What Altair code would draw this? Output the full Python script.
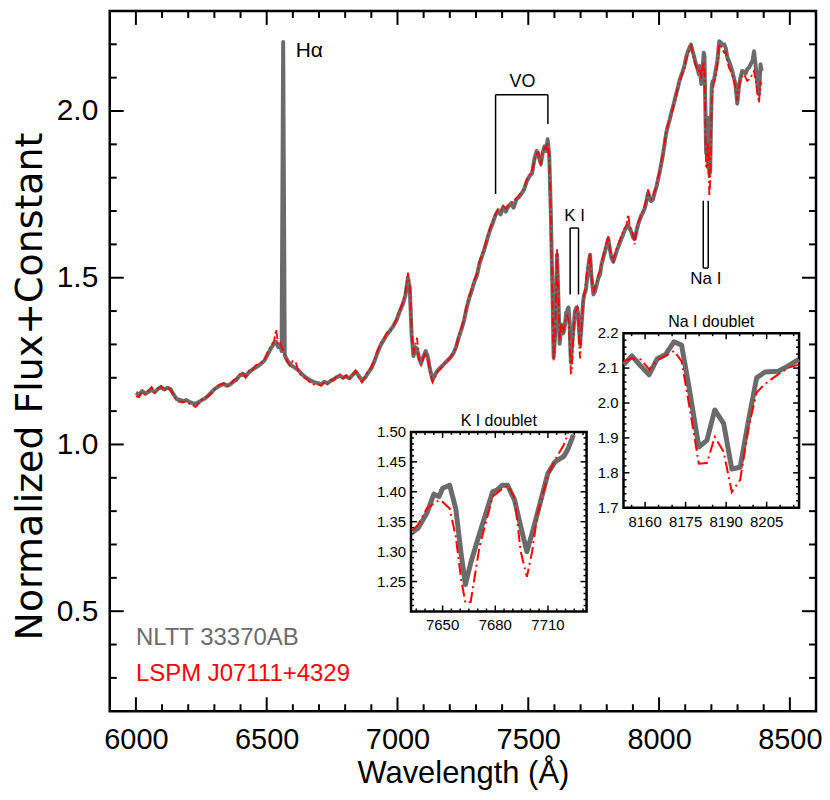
import altair as alt
import pandas as pd

# ---------------- data ----------------
WAVE = [6000, 6012, 6024, 6036, 6048, 6060, 6072, 6084, 6096, 6108, 6120, 6132, 6144, 6156, 6168, 6180,
        6192, 6204, 6216, 6228, 6240, 6252, 6264, 6276, 6288, 6300, 6312, 6324, 6336, 6348, 6360, 6372,
        6384, 6396, 6408, 6420, 6432, 6444, 6456, 6468, 6480, 6492, 6504, 6516, 6528, 6536, 6544, 6552,
        6557, 6563, 6569, 6576, 6588, 6600, 6612, 6624, 6636, 6648, 6660, 6672, 6684, 6696, 6708, 6720,
        6732, 6744, 6756, 6768, 6780, 6792, 6804, 6816, 6828, 6840, 6852, 6864, 6876, 6888, 6900, 6912,
        6924, 6936, 6948, 6960, 6972, 6984, 6996, 7008, 7020, 7030, 7040, 7047, 7054, 7061, 7068, 7075,
        7082, 7090, 7098, 7108, 7116, 7124, 7134, 7144, 7154, 7164, 7174, 7184, 7194, 7204, 7214, 7224,
        7234, 7244, 7254, 7264, 7274, 7284, 7294, 7304, 7314, 7324, 7334, 7344, 7354, 7364, 7374, 7384,
        7394, 7404, 7414, 7424, 7434, 7444, 7454, 7464, 7474, 7484, 7494, 7504, 7514, 7524, 7532, 7540,
        7548, 7555, 7562, 7568, 7574, 7580, 7586, 7592, 7597, 7603, 7610, 7615, 7620, 7626,
        7633, 7636, 7641, 7645, 7648, 7650, 7654, 7657.5, 7660.5, 7663, 7666, 7671, 7678.5, 7681, 7684,
        7687, 7691, 7694.5, 7698, 7701, 7704, 7706.5, 7710, 7714, 7719, 7721.5, 7724.5,
        7730, 7736, 7742, 7749, 7755, 7762, 7768, 7774, 7780, 7787, 7793, 7800, 7806, 7812, 7818, 7825,
        7832, 7840, 7848, 7856, 7863, 7870, 7876, 7882, 7888, 7895, 7901, 7907, 7914, 7920, 7927, 7933,
        7939, 7946, 7952, 7958, 7964, 7970, 7977, 7983, 7990, 7996, 8002, 8008, 8015, 8021, 8027, 8034,
        8040, 8047, 8053, 8059, 8065, 8072, 8078, 8084, 8090, 8097, 8103, 8110, 8116, 8122, 8128, 8135,
        8141, 8146,
        8152.2, 8155.1, 8158.4, 8161.5, 8164.5, 8167.6, 8170.7, 8173.5, 8176.2, 8179.9, 8182.9, 8185.8,
        8189.1, 8192.1, 8195.2, 8198.3, 8201.3, 8204.4, 8209.3, 8213, 8216.9,
        8223, 8230, 8236, 8242, 8249, 8255, 8261, 8267, 8274, 8280, 8286, 8292, 8299, 8305, 8311, 8318,
        8324, 8331, 8337, 8344, 8350, 8357, 8363, 8370, 8376, 8382, 8388, 8392]

GRAY = [1.155, 1.150, 1.160, 1.152, 1.158, 1.163, 1.157, 1.166, 1.172, 1.165, 1.170, 1.166, 1.150, 1.136, 1.134, 1.130,
        1.133, 1.128, 1.124, 1.122, 1.127, 1.133, 1.138, 1.146, 1.156, 1.166, 1.172, 1.178, 1.181, 1.176, 1.180, 1.188,
        1.194, 1.206, 1.212, 1.205, 1.216, 1.224, 1.230, 1.236, 1.243, 1.252, 1.270, 1.288, 1.302, 1.308, 1.292, 1.298,
        1.280, 2.207, 1.268, 1.256, 1.242, 1.234, 1.228, 1.220, 1.210, 1.202, 1.196, 1.190, 1.186, 1.184, 1.180, 1.188,
        1.184, 1.190, 1.196, 1.202, 1.206, 1.200, 1.204, 1.198, 1.208, 1.218, 1.206, 1.192, 1.200, 1.215, 1.228, 1.250,
        1.276, 1.298, 1.314, 1.330, 1.342, 1.355, 1.372, 1.398, 1.420, 1.446, 1.500, 1.468, 1.330, 1.265, 1.292, 1.285,
        1.260, 1.243, 1.262, 1.280, 1.262, 1.226, 1.194, 1.210, 1.222, 1.230, 1.238, 1.246, 1.254, 1.262, 1.274, 1.292,
        1.320, 1.344, 1.370, 1.408, 1.438, 1.462, 1.488, 1.508, 1.544, 1.566, 1.590, 1.618, 1.644, 1.664, 1.686, 1.700,
        1.690, 1.712, 1.698, 1.714, 1.722, 1.710, 1.734, 1.742, 1.752, 1.764, 1.788, 1.804, 1.812, 1.858, 1.880, 1.862,
        1.842, 1.874, 1.894, 1.880, 1.915, 1.870, 1.700, 1.480, 1.262, 1.330, 1.570, 1.440, 1.302, 1.360,
        1.333, 1.339, 1.364, 1.396, 1.392, 1.406, 1.411, 1.372, 1.297, 1.245, 1.281, 1.330, 1.400, 1.403, 1.411,
        1.411, 1.386, 1.342, 1.300, 1.331, 1.364, 1.392, 1.431, 1.450, 1.459, 1.472, 1.495,
        1.538, 1.568, 1.500, 1.450, 1.459, 1.480, 1.500, 1.509, 1.540, 1.560, 1.578, 1.600, 1.617, 1.585, 1.560, 1.548,
        1.565, 1.585, 1.600, 1.617, 1.630, 1.645, 1.650, 1.657, 1.648, 1.635, 1.620, 1.617, 1.640, 1.660, 1.675, 1.688,
        1.696, 1.710, 1.730, 1.755, 1.740, 1.730, 1.736, 1.755, 1.772, 1.795, 1.815, 1.840, 1.870, 1.900, 1.933, 1.955,
        1.972, 1.995, 2.012, 2.030, 2.050, 2.070, 2.091, 2.105, 2.118, 2.135, 2.160, 2.178, 2.190, 2.199, 2.180, 2.160,
        2.140, 2.130,
        2.110, 2.135, 2.106, 2.081, 2.127, 2.139, 2.175, 2.166, 2.048, 1.874, 1.893, 1.980,
        1.941, 1.811, 1.816, 1.951, 2.072, 2.089, 2.091, 2.106, 2.125,
        2.150, 2.209, 2.205, 2.198, 2.200, 2.189, 2.160, 2.150, 2.135, 2.120, 2.100, 2.080, 2.022, 2.070, 2.100, 2.120,
        2.118, 2.112, 2.125, 2.130, 2.140, 2.150, 2.179, 2.130, 2.080, 2.051, 2.140, 2.120]

RED = [1.145, 1.142, 1.158, 1.150, 1.162, 1.172, 1.155, 1.168, 1.175, 1.160, 1.172, 1.163, 1.148, 1.130, 1.128, 1.126,
       1.130, 1.122, 1.118, 1.112, 1.122, 1.134, 1.140, 1.146, 1.152, 1.162, 1.176, 1.180, 1.184, 1.174, 1.178, 1.192,
       1.198, 1.210, 1.216, 1.200, 1.222, 1.220, 1.236, 1.242, 1.246, 1.256, 1.278, 1.296, 1.310, 1.345, 1.300, 1.305,
       1.290, 1.300, 1.275, 1.250, 1.236, 1.250, 1.244, 1.214, 1.205, 1.198, 1.190, 1.182, 1.178, 1.180, 1.176, 1.186,
       1.180, 1.194, 1.192, 1.206, 1.210, 1.198, 1.208, 1.194, 1.210, 1.222, 1.200, 1.186, 1.204, 1.220, 1.232, 1.256,
       1.282, 1.304, 1.318, 1.336, 1.340, 1.358, 1.376, 1.402, 1.426, 1.452, 1.515, 1.480, 1.340, 1.270, 1.300, 1.320,
       1.255, 1.238, 1.256, 1.276, 1.258, 1.220, 1.186, 1.202, 1.220, 1.226, 1.236, 1.250, 1.252, 1.265, 1.276, 1.294,
       1.326, 1.350, 1.376, 1.414, 1.444, 1.468, 1.494, 1.514, 1.550, 1.572, 1.594, 1.624, 1.648, 1.668, 1.690, 1.706,
       1.700, 1.716, 1.708, 1.718, 1.726, 1.728, 1.738, 1.746, 1.758, 1.768, 1.794, 1.808, 1.816, 1.852, 1.870, 1.876,
       1.834, 1.880, 1.890, 1.886, 1.905, 1.860, 1.690, 1.460, 1.250, 1.345, 1.585, 1.452, 1.312, 1.362,
       1.336, 1.345, 1.372, 1.380, 1.386, 1.383, 1.372, 1.325, 1.255, 1.214, 1.216, 1.308, 1.392, 1.398, 1.405,
       1.411, 1.390, 1.300, 1.258, 1.300, 1.362, 1.390, 1.428, 1.453, 1.478, 1.498, 1.520,
       1.530, 1.575, 1.505, 1.455, 1.470, 1.490, 1.510, 1.520, 1.545, 1.570, 1.585, 1.605, 1.625, 1.590, 1.565, 1.550,
       1.575, 1.590, 1.610, 1.625, 1.640, 1.650, 1.660, 1.690, 1.655, 1.640, 1.630, 1.600, 1.650, 1.665, 1.680, 1.695,
       1.700, 1.720, 1.735, 1.765, 1.745, 1.735, 1.745, 1.760, 1.778, 1.800, 1.820, 1.845, 1.875, 1.905, 1.940, 1.960,
       1.975, 1.990, 2.010, 2.032, 2.045, 2.072, 2.085, 2.100, 2.115, 2.130, 2.150, 2.170, 2.182, 2.195, 2.175, 2.150,
       2.135, 2.120,
       2.120, 2.128, 2.125, 2.096, 2.123, 2.135, 2.149, 2.120, 1.999, 1.826, 1.828, 1.903,
       1.860, 1.745, 1.780, 1.930, 2.030, 2.055, 2.082, 2.101, 2.110,
       2.140, 2.200, 2.195, 2.185, 2.175, 2.178, 2.150, 2.130, 2.120, 2.105, 2.095, 2.070, 2.030, 2.075, 2.095, 2.105,
       2.110, 2.100, 2.090, 2.095, 2.100, 2.110, 2.120, 2.090, 2.050, 2.025, 2.085, 2.080]

# main axes ticks
X_MAJOR = [6000, 6500, 7000, 7500, 8000, 8500]
X_MINOR = [6100, 6200, 6300, 6400, 6600, 6700, 6800, 6900, 7100, 7200, 7300, 7400,
           7600, 7700, 7800, 7900, 8100, 8200, 8300, 8400]
Y_MAJOR = [0.5, 1.0, 1.5, 2.0]
Y_MINOR = [0.3, 0.4, 0.6, 0.7, 0.8, 0.9, 1.1, 1.2, 1.3, 1.4, 1.6, 1.7, 1.8, 1.9, 2.1, 2.2]

# K I inset ticks
KI_X_MAJOR = [7650, 7680, 7710]
KI_X_MINOR = [7635, 7640, 7645, 7655, 7660, 7665, 7670, 7675, 7685, 7690, 7695, 7700, 7705, 7715, 7720, 7725, 7730]
KI_Y_MAJOR = [1.25, 1.30, 1.35, 1.40, 1.45, 1.50]
KI_Y_MINOR = [1.21, 1.22, 1.23, 1.24, 1.26, 1.27, 1.28, 1.29, 1.31, 1.32, 1.33, 1.34, 1.36, 1.37, 1.38, 1.39,
              1.41, 1.42, 1.43, 1.44, 1.46, 1.47, 1.48, 1.49]
# Na I inset ticks
NA_X_MAJOR = [8160, 8175, 8190, 8205]
NA_X_MINOR = [8155, 8165, 8170, 8180, 8185, 8195, 8200, 8210, 8215]
NA_Y_MAJOR = [1.7, 1.8, 1.9, 2.0, 2.1, 2.2]
NA_Y_MINOR = [1.72, 1.74, 1.76, 1.78, 1.82, 1.84, 1.86, 1.88, 1.92, 1.94, 1.96, 1.98,
              2.02, 2.04, 2.06, 2.08, 2.12, 2.14, 2.16, 2.18]

# annotations (data units)
BR_X = [7375, 7375, 7575, 7660, 7660, 7692, 8169, 8169, 8188]
BR_X2 = [7375, 7575, 7575, 7660, 7692, 7692, 8169, 8188, 8188]
BR_Y = [2.049, 2.049, 2.049, 1.649, 1.649, 1.649, 1.731, 1.529, 1.731]
BR_Y2 = [1.751, 2.049, 1.961, 1.450, 1.649, 1.450, 1.529, 1.529, 1.529]
LAB_TEXT = ["VO", "K I", "Na I"]
LAB_X = [7478, 7677, 8179]
LAB_Y = [2.086, 1.686, 1.497]
LAB_SIZE = [18, 17, 17]
HA_TEXT, HA_X, HA_Y = "H\u03b1", 6611, 2.18
LEG_TEXT = ["NLTT 33370AB", "LSPM J07111+4329"]
LEG_X = [6000, 6000]
LEG_Y = [0.42, 0.313]

# ---------------- styling ----------------
F = "Liberation Sans"
GRAYC = "#6b6b6b"
W, H = 708, 702

spec = pd.DataFrame({"wave": WAVE, "gray": GRAY, "red": RED})

xs = alt.Scale(domain=[5900, 8600], nice=False, zero=False)
ys = alt.Scale(domain=[0.2, 2.3], nice=False, zero=False)

x_axis = alt.Axis(values=X_MAJOR, format="d", labelFontSize=29, labelFont=F, labelColor="black",
                  labelPadding=14, ticks=False, domain=False, grid=False, labelFlush=False,
                  title="Wavelength (\u00c5)", titleFont=F, titleFontSize=31, titleFontWeight="normal",
                  titleColor="black", titleY=71, titleBaseline="alphabetic")
y_axis = alt.Axis(values=Y_MAJOR, format=".1f", labelFontSize=30, labelFont=F, labelColor="black",
                  labelPadding=12, ticks=False, domain=False, grid=False, labelFlush=False,
                  title="Normalized Flux+Constant", titleFont="DejaVu Sans", titleFontSize=38,
                  titleFontWeight="normal", titleColor="black", titleX=-79, titleY=H / 2 + 25,
                  titleBaseline="middle", titleAngle=270)


def X(field, **kw):
    return alt.X(field, scale=xs, axis=x_axis, **kw)


def Y(field, **kw):
    return alt.Y(field, scale=ys, axis=y_axis, **kw)


def tickdf(vals):
    return pd.DataFrame({"v": vals})


tick_layers = []
for vals, ln in ((X_MAJOR, 14), (X_MINOR, 7)):
    d = tickdf(vals)
    tick_layers.append(alt.Chart(d).mark_rule(color="black", strokeWidth=2).encode(
        x=X("v:Q"), y=alt.value(H), y2=alt.value(H - ln)))
    tick_layers.append(alt.Chart(d).mark_rule(color="black", strokeWidth=2).encode(
        x=X("v:Q"), y=alt.value(0), y2=alt.value(ln)))
for vals, ln in ((Y_MAJOR, 14), (Y_MINOR, 7)):
    d = tickdf(vals)
    tick_layers.append(alt.Chart(d).mark_rule(color="black", strokeWidth=2).encode(
        y=Y("v:Q"), x=alt.value(0), x2=alt.value(ln)))
    tick_layers.append(alt.Chart(d).mark_rule(color="black", strokeWidth=2).encode(
        y=Y("v:Q"), x=alt.value(W), x2=alt.value(W - ln)))

gray_main = alt.Chart(spec).mark_line(color=GRAYC, strokeWidth=4, strokeJoin="round").encode(
    x=X("wave:Q"), y=Y("gray:Q"), order="wave:Q")
red_main = alt.Chart(spec).transform_filter("datum.wave != 6563").mark_line(
    color="red", strokeWidth=1.8, strokeDash=[9, 3, 2, 3]).encode(
    x=X("wave:Q"), y=Y("red:Q"), order="wave:Q")

br = pd.DataFrame({"x": BR_X, "x2": BR_X2, "y": BR_Y, "y2": BR_Y2})
brackets = alt.Chart(br).mark_rule(color="black", strokeWidth=1.5).encode(
    x=X("x:Q"), x2="x2:Q", y=Y("y:Q"), y2="y2:Q")

labs = pd.DataFrame({"t": LAB_TEXT, "x": LAB_X, "y": LAB_Y, "s": LAB_SIZE})
lab_layers = []
for i in range(len(LAB_TEXT)):
    lab_layers.append(alt.Chart(labs.iloc[[i]]).mark_text(
        font=F, fontSize=LAB_SIZE[i], color="black", align="center", baseline="middle").encode(
        x=X("x:Q"), y=Y("y:Q"), text="t:N"))
ha = alt.Chart(pd.DataFrame({"t": [HA_TEXT], "x": [HA_X], "y": [HA_Y]})).mark_text(
    font=F, fontSize=21, color="black", align="left", baseline="middle").encode(
    x=X("x:Q"), y=Y("y:Q"), text="t:N")
leg = pd.DataFrame({"t": LEG_TEXT, "x": LEG_X, "y": LEG_Y})
leg1 = alt.Chart(leg.iloc[[0]]).mark_text(font=F, fontSize=24, color=GRAYC, align="left",
                                           baseline="middle").encode(x=X("x:Q"), y=Y("y:Q"), text="t:N")
leg2 = alt.Chart(leg.iloc[[1]]).mark_text(font=F, fontSize=24, color="red", align="left",
                                           baseline="middle").encode(x=X("x:Q"), y=Y("y:Q"), text="t:N")

main = alt.layer(*tick_layers, gray_main, red_main, brackets, *lab_layers, ha, leg1, leg2)


# ---------------- insets ----------------
def inset(xdom, ydom, xrange_px, yrange_px, xmaj, xmin, ymaj, ymin, yfmt, title, wmax, ymaxcut):
    ix = alt.Scale(domain=xdom, range=xrange_px, nice=False, zero=False)
    iy = alt.Scale(domain=ydom, range=yrange_px, nice=False, zero=False)
    pxx = (xdom[1] - xdom[0]) / abs(xrange_px[1] - xrange_px[0])
    pxy = (ydom[1] - ydom[0]) / abs(yrange_px[1] - yrange_px[0])

    def IX(f=None, datum=None):
        if datum is not None:
            return alt.X(datum=datum, scale=ix, axis=None)
        return alt.X(f, scale=ix, axis=None)

    def IY(f=None, datum=None):
        if datum is not None:
            return alt.Y(datum=datum, scale=iy, axis=None)
        return alt.Y(f, scale=iy, axis=None)

    frame = alt.Chart(pd.DataFrame({"a": [0]})).mark_rect(
        fill="white", stroke="black", strokeWidth=2.5).encode(
        x=IX(datum=xdom[0]), x2=alt.X2(datum=xdom[1]),
        y=IY(datum=ydom[0]), y2=alt.Y2(datum=ydom[1]))
    layers = [frame]
    for vals, ln in ((xmaj, 6), (xmin, 3)):
        d = tickdf(vals)
        layers.append(alt.Chart(d).mark_rule(color="black", strokeWidth=1.5).encode(
            x=IX("v:Q"), y=IY(datum=ydom[0]), y2=alt.Y2(datum=ydom[0] + ln * pxy)))
        layers.append(alt.Chart(d).mark_rule(color="black", strokeWidth=1.5).encode(
            x=IX("v:Q"), y=IY(datum=ydom[1]), y2=alt.Y2(datum=ydom[1] - ln * pxy)))
    for vals, ln in ((ymaj, 6), (ymin, 3)):
        d = tickdf(vals)
        layers.append(alt.Chart(d).mark_rule(color="black", strokeWidth=1.5).encode(
            y=IY("v:Q"), x=IX(datum=xdom[0]), x2=alt.X2(datum=xdom[0] + ln * pxx)))
        layers.append(alt.Chart(d).mark_rule(color="black", strokeWidth=1.5).encode(
            y=IY("v:Q"), x=IX(datum=xdom[1]), x2=alt.X2(datum=xdom[1] - ln * pxx)))
    base = alt.Chart(spec).transform_filter(
        f"datum.wave >= {xdom[0]} && datum.wave <= {wmax}")
    layers.append(base.transform_filter(f"datum.gray <= {ymaxcut}").mark_line(
        color=GRAYC, strokeWidth=5, strokeJoin="round").encode(
        x=IX("wave:Q"), y=IY("gray:Q"), order="wave:Q"))
    layers.append(base.transform_filter(f"datum.red <= {ymaxcut}").mark_line(
        color="red", strokeWidth=2, strokeDash=[12, 4, 2, 4]).encode(
        x=IX("wave:Q"), y=IY("red:Q"), order="wave:Q"))
    layers.append(alt.Chart(tickdf(xmaj)).mark_text(
        font=F, fontSize=15, color="black", align="center", baseline="middle", dy=14).encode(
        x=IX("v:Q"), y=IY(datum=ydom[0]), text=alt.Text("v:Q", format="d")))
    layers.append(alt.Chart(tickdf(ymaj)).mark_text(
        font=F, fontSize=15, color="black", align="right", baseline="middle", dx=-5).encode(
        y=IY("v:Q"), x=IX(datum=xdom[0]), text=alt.Text("v:Q", format=yfmt)))
    layers.append(alt.Chart(pd.DataFrame({"t": [title]})).mark_text(
        font=F, fontSize=16, color="black", align="center", baseline="middle", dy=-11).encode(
        x=IX(datum=(xdom[0] + xdom[1]) / 2), y=IY(datum=ydom[1]), text="t:N"))
    return alt.layer(*layers)


ki = inset([7632, 7732], [1.2, 1.5], [302, 478], [602, 422],
           KI_X_MAJOR, KI_X_MINOR, KI_Y_MAJOR, KI_Y_MINOR, ".2f", "K I doublet", 7725, 1.5)
na = inset([8152, 8217], [1.7, 2.2], [515, 691], [498, 323],
           NA_X_MAJOR, NA_X_MINOR, NA_Y_MAJOR, NA_Y_MINOR, ".1f", "Na I doublet", 8217, 2.2)

chart = alt.layer(main, ki, na).resolve_scale(x="independent", y="independent").properties(
    width=W, height=H,
    padding={"left": 102, "top": 2, "right": 6, "bottom": 78},
    autosize=alt.AutoSizeParams(type="none"),
    background="white",
).configure_view(stroke="black", strokeWidth=2.5)

chart.save("out.html", embed_options={"renderer": "svg", "actions": False})
